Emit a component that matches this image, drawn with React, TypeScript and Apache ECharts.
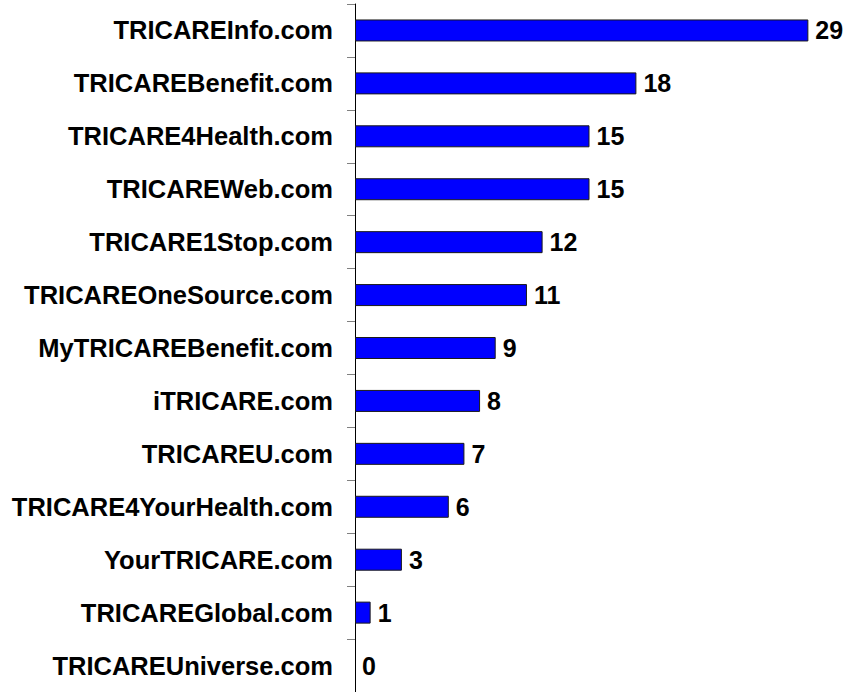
import React, { useEffect, useRef } from "react";
import * as echarts from "echarts";

const categories = [
  "TRICAREInfo.com",
  "TRICAREBenefit.com",
  "TRICARE4Health.com",
  "TRICAREWeb.com",
  "TRICARE1Stop.com",
  "TRICAREOneSource.com",
  "MyTRICAREBenefit.com",
  "iTRICARE.com",
  "TRICAREU.com",
  "TRICARE4YourHealth.com",
  "YourTRICARE.com",
  "TRICAREGlobal.com",
  "TRICAREUniverse.com",
];
const values = [29, 18, 15, 15, 12, 11, 9, 8, 7, 6, 3, 1, 0];

const FONT = '"Liberation Sans", Arial, sans-serif';

export default function App() {
  const ref = useRef<HTMLDivElement>(null);
  useEffect(() => {
    if (!ref.current) return;
    const chart = echarts.init(ref.current, null, { renderer: "svg" });
    chart.setOption({
      animation: false,
      backgroundColor: "#ffffff",
      grid: { left: 355, top: 4, height: 690, right: 20 },
      xAxis: {
        type: "value",
        min: 0,
        max: 30,
        show: false,
        splitLine: { show: false },
      },
      yAxis: {
        type: "category",
        data: categories,
        inverse: true,
        axisLine: { show: true, lineStyle: { color: "#000000", width: 1 } },
        axisTick: { show: true, length: 8, lineStyle: { color: "#808080", width: 1 } },
        axisLabel: {
          margin: 22,
          color: "#000000",
          fontFamily: FONT,
          fontWeight: "bold",
          fontSize: 25.5,
        },
        splitLine: { show: false },
      },
      series: [
        {
          type: "bar",
          data: values.map((v) =>
            v === 0 ? { value: v, itemStyle: { borderWidth: 0 } } : v
          ),
          barWidth: 22,
          itemStyle: { color: "#0000ff", borderColor: "#1a1a1a", borderWidth: 1 },
          label: {
            show: true,
            position: "right",
            distance: 7,
            color: "#000000",
            fontFamily: FONT,
            fontWeight: "bold",
            fontSize: 25,
          },
        },
      ],
    });
    return () => chart.dispose();
  }, []);
  return (
    <div
      ref={ref}
      style={{ position: "fixed", left: 0, top: 0, width: 844, height: 692 }}
    />
  );
}
